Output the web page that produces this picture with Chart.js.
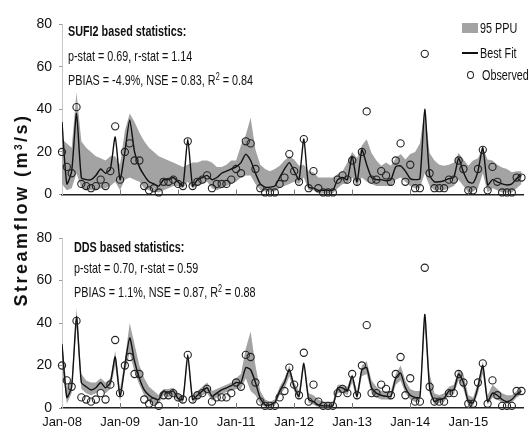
<!DOCTYPE html>
<html>
<head>
<meta charset="utf-8">
<script src="https://cdn.jsdelivr.net/npm/chart.js@4.4.1/dist/chart.umd.min.js"></script>
<style>
  body { margin: 0; background: #fff; }
  #wrap { position: relative; width: 529px; height: 437px; overflow: hidden; font-family: 'Liberation Sans', Arial, sans-serif; color: #111; }
  canvas { position: absolute; left: 0; }
  .txt { position: absolute; white-space: nowrap; font-size: 15px; line-height: 16px; transform: scaleX(0.72); transform-origin: left top; }
  .txt b { font-weight: bold; }
  sup { font-size: 10px; vertical-align: 5px; line-height: 0; }
  #ytitle { position: absolute; left: -99px; top: 200px; width: 240px; text-align: center; font: bold 18px 'Liberation Sans', Arial, sans-serif; letter-spacing: 2.5px; line-height: 20px; transform: rotate(-90deg); }
</style>
</head>
<body>
<div id="wrap">
  <canvas id="sufi" width="529" height="210" style="top:0"></canvas>
  <canvas id="dds" width="529" height="222" style="top:215px"></canvas>

  <div id="ytitle">Streamflow (m<sup>3</sup>/s)</div>

  <div class="txt" style="left:68px;top:23px"><b>SUFI2 based statistics:</b></div>
  <div class="txt" style="left:68px;top:48px">p-stat = 0.69, r-stat = 1.14</div>
  <div class="txt" style="left:68px;top:72px">PBIAS = -4.9%, NSE = 0.83, R<sup>2</sup> = 0.84</div>

  <div class="txt" style="left:74px;top:239px"><b>DDS based statistics:</b></div>
  <div class="txt" style="left:74px;top:260px">p-stat = 0.70, r-stat = 0.59</div>
  <div class="txt" style="left:74px;top:284px">PBIAS = 1.1%, NSE = 0.87, R<sup>2</sup> = 0.88</div>

  <div style="position:absolute;left:462px;top:23px;width:16px;height:10px;background:#a3a3a3"></div>
  <div class="txt" style="left:480px;top:20px">95 PPU</div>
  <div style="position:absolute;left:462px;top:52px;width:16px;height:1.5px;background:#111"></div>
  <div class="txt" style="left:480px;top:45px">Best Fit</div>
  <div style="position:absolute;left:467px;top:71px;width:5px;height:6px;border:1.2px solid #222;border-radius:50%"></div>
  <div class="txt" style="left:482px;top:67px">Observed</div>
</div>

<script>
// x axis ticks (month index from Jan-08)
const tickMonths = [0, 12, 24, 36, 48, 60, 72, 84];
const tickLabels = ['Jan-08', 'Jan-09', 'Jan-10', 'Jan-11', 'Jan-12', 'Jan-13', 'Jan-14', 'Jan-15'];

// monthly observed streamflow, Jan-08 .. Dec-15
const observed = [
  20, 13, 10, 41, 5, 4, 3, 4, 7, 4, 11, 32,
  7, 20, 24, 16, 16, 4, 2, 3, 1, 6, 6, 7,
  5, 4, 25, 4, 6, 7, 9, 3, 5, 5, 5, 7,
  12, 10, 25, 24, 12, 3, 1, 1, 1, 5, 8, 19,
  11, 6, 26, 3, 11, 3, 1, 1, 1, 7, 9, 7,
  16, 6, 20, 39, 7, 7, 11, 9, 6, 16, 24, 6,
  14, 3, 3, 66, 10, 3, 3, 3, 7, 7, 16, 12,
  2, 2, 12, 21, 2, 13, 6, 1, 1, 1, 8, 8
];

// SUFI2 results
const sufiBest = [
  34, 5, 11, 38, 8, 7, 7, 9, 12, 10, 12, 27,
  7, 20, 35, 20, 13, 9, 6, 5, 4, 7, 7, 8,
  6, 4, 26, 4, 7, 8, 9, 7, 8, 10, 11, 12,
  13, 15, 19, 16, 10, 5, 3.5, 3.5, 4, 8, 12, 15,
  11, 7, 26, 3.5, 3, 2, 2, 2, 2, 7, 8, 7,
  18, 6, 21, 14, 8, 7, 7, 6.5, 7, 13, 13.5, 11,
  7.5, 7, 7.5, 40, 9, 6, 6, 6.5, 7.5, 8, 17, 10.5,
  6, 5.5, 11, 22, 4.5, 7, 6, 5, 4.5, 5, 7.5, 9
];
const sufiHigh = [
  26, 24, 22, 48, 25, 22, 20, 18, 17, 16, 18, 18,
  14, 30, 38, 34, 29, 25, 22, 20, 18, 17, 16, 15,
  14, 13, 14, 15, 15, 16, 16, 15, 13, 13, 14, 16,
  16, 23, 28, 36, 21, 14, 12, 11, 12, 13.5, 16, 18,
  16.5, 13.5, 14, 11, 10.5, 8, 8, 8, 8, 9.7, 11, 15,
  20, 17, 23, 26, 19.5, 16, 13.5, 15, 13.5, 17, 19, 16.5,
  19, 20, 24, 40, 19.5, 16, 14, 13.5, 14, 15, 19.5, 16.5,
  13.5, 16, 17, 22, 16.5, 16, 14, 12.7, 12, 10.5, 11, 11
];
const sufiLow = [
  5, 2, 3, 10, 3, 2, 2, 2, 3, 3, 4, 6,
  2, 7, 8, 7, 6, 3, 2, 1.5, 1, 2, 3, 4,
  4, 3, 6, 3, 4, 5, 6, 3, 2, 3, 4, 5,
  6, 8, 9, 9, 5, 2, 1.5, 1.5, 1.5, 3, 4, 5,
  6, 5, 8, 2, 2, 0.5, 0.5, 0.5, 0.5, 3, 5, 5,
  8, 4, 8, 6, 5, 4, 4, 4, 4, 7, 8, 6,
  4, 3, 3, 10, 4, 2, 2, 2, 3, 4, 7, 4,
  1, 1.5, 3, 10, 1, 3, 2, 1, 1, 1, 3, 5
];

// DDS results
const ddsBest = [
  30, 5, 10, 43, 12, 10, 8.5, 9.5, 12, 9.5, 12, 24,
  5.5, 20, 33, 22, 14, 8.5, 6, 4.5, 4, 8, 7, 8,
  4.5, 4, 25, 4, 6, 8, 9.5, 5.5, 7, 8.5, 9.5, 10.5,
  12, 12, 19, 18, 12, 4.5, 1.5, 1.5, 2.5, 8, 12, 18,
  10, 5.5, 21, 4, 3, 1.5, 1, 1, 1, 9.5, 9.5, 8,
  15, 5.5, 18, 19, 9.5, 7, 6, 5.5, 5.5, 14, 16.5, 9.5,
  6, 5, 5, 44, 9.5, 3, 4, 4.5, 8, 8.5, 16, 12,
  3, 2.5, 10, 20, 3, 7, 6, 4, 3, 4, 6.5, 8
];
const ddsHigh = [
  32, 9, 13, 47, 16, 13, 12, 12, 14, 12, 14, 27,
  9, 23, 40, 30, 20, 14, 10, 8, 6, 9, 9, 9.5,
  7, 6, 26, 6, 8, 10, 12, 8, 9, 10, 11, 12,
  14, 16, 28, 36, 20, 8, 4, 3, 4, 10, 14, 20,
  12, 8, 22, 7, 6, 4, 3, 3, 3, 11, 11, 10,
  16, 8, 20, 22, 13, 10, 8, 8, 8, 16, 20, 13,
  9, 8, 8, 45, 16, 7, 6, 7, 10, 11, 18, 16,
  6, 5, 12, 22, 6, 11, 9, 7, 6, 6, 8, 9
];
const ddsLow = [
  20, 2, 7, 38, 9, 7, 6, 7, 9, 7, 9, 20,
  3, 17, 26, 17, 11, 6, 3, 2, 2, 6, 5, 6,
  3, 2.5, 22, 2.5, 4, 6, 7, 3.5, 5, 6.5, 7.5, 8,
  9, 9, 14, 8, 6, 2, 0.5, 0.5, 1, 6, 9, 15,
  8, 3.5, 19, 2.5, 1.5, 0.5, 0.3, 0.3, 0.3, 7, 7.5, 6,
  12, 3.5, 15, 16, 7, 5, 4, 4, 4, 11, 13, 7,
  4, 3, 3, 38, 7, 1.5, 2.5, 3, 6, 6.5, 13, 9,
  1, 1, 7, 16, 1.5, 5, 4, 2.5, 2, 2.5, 5, 6.5
];

const axisFont = { family: "'Liberation Sans', Arial, sans-serif", size: 13 };

function series(vals) {
  return vals.map((v, i) => ({ x: i, y: v }));
}

// small inward tick marks on the x axis
const innerTicks = {
  id: 'innerTicks',
  afterDatasetsDraw(chart) {
    const xs = chart.scales.x;
    const b = chart.chartArea.bottom;
    const ctx = chart.ctx;
    ctx.save();
    ctx.strokeStyle = '#777';
    ctx.lineWidth = 1;
    xs.ticks.forEach(t => {
      if (t.value === 0) return;
      const px = Math.round(xs.getPixelForValue(t.value)) + 0.5;
      ctx.beginPath();
      ctx.moveTo(px, b);
      ctx.lineTo(px, b - 5);
      ctx.stroke();
    });
    ctx.restore();
  }
};

function makeChart(id, low, high, best, showLabels, padTop, xHeight) {
  return new Chart(document.getElementById(id), {
    type: 'line',
    data: {
      datasets: [
        { data: series(low), borderWidth: 0, pointRadius: 0, fill: false, order: 4 },
        { data: series(high), borderWidth: 0, pointRadius: 0, fill: '-1', backgroundColor: '#a3a3a3', order: 3 },
        { data: series(best), borderColor: '#111', borderWidth: 1.4, pointRadius: 0, fill: false, tension: 0.2, order: 2 },
        { data: series(observed), showLine: false, fill: false, clip: false, pointRadius: 3.6,
          pointBorderWidth: 1.1, pointBorderColor: '#222', pointBackgroundColor: 'rgba(255,255,255,0)', order: 1 }
      ]
    },
    options: {
      responsive: false,
      animation: false,
      events: [],
      layout: { padding: { top: padTop, left: 0, right: 0, bottom: 0 } },
      plugins: { legend: { display: false }, tooltip: { enabled: false } },
      scales: {
        x: {
          type: 'linear', min: 0, max: 95.5,
          afterBuildTicks: s => { s.ticks = tickMonths.map(v => ({ value: v })); },
          afterFit: s => { s.height = xHeight; },
          ticks: {
            display: showLabels, maxRotation: 0, autoSkip: false, padding: 7,
            color: '#111', font: axisFont,
            callback: v => tickLabels[tickMonths.indexOf(v)]
          },
          grid: { drawOnChartArea: false, drawTicks: false },
          border: { color: '#222', width: 1.5 }
        },
        y: {
          min: 0, max: 80,
          afterFit: s => { s.width = 62; },
          ticks: { stepSize: 20, padding: 7, color: '#111', font: { family: "'Liberation Sans', Arial, sans-serif", size: 14 } },
          grid: { drawOnChartArea: false, tickLength: 3, color: '#999' },
          border: { color: '#c8c8c8', width: 1 }
        }
      }
    },
    plugins: [innerTicks]
  });
}

makeChart('sufi', sufiLow, sufiHigh, sufiBest, false, 24, 9);
makeChart('dds', ddsLow, ddsHigh, ddsBest, true, 23, 29);
</script>
</body>
</html>
